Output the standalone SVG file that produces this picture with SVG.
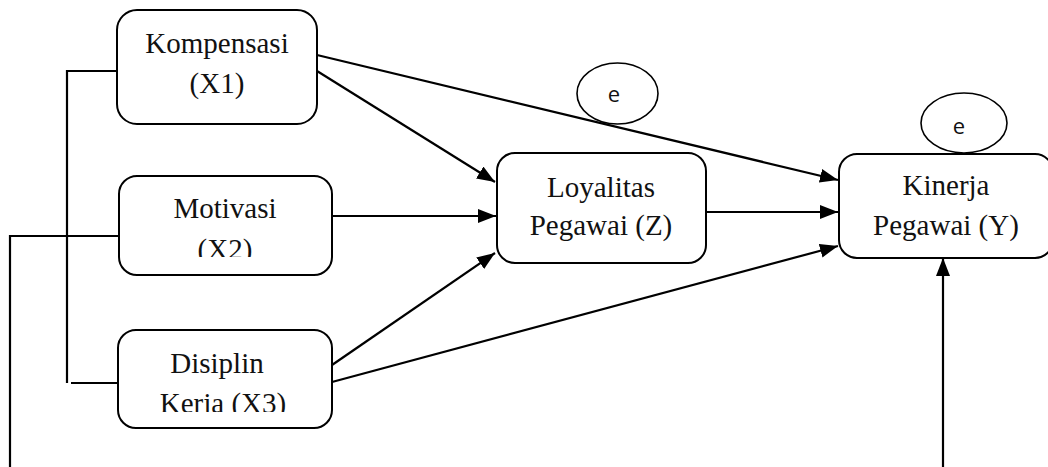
<svg xmlns="http://www.w3.org/2000/svg" width="1048" height="467" viewBox="0 0 1048 467">
<style>
.box{fill:#fff;stroke:#000;stroke-width:2}
.lbl{font-family:"Liberation Serif","Times New Roman",serif;font-size:29px;fill:#111;text-anchor:middle}
.e{font-family:"Open Sans","Noto Sans",sans-serif;font-size:22px;fill:#111;text-anchor:middle}
.ln{fill:none;stroke:#000;stroke-width:2.2}
.arr{fill:none;stroke:#000;stroke-width:2.2;marker-end:url(#ah)}
.ell{fill:none;stroke:#000;stroke-width:1.6}
</style>
<defs>
<marker id="ah" markerUnits="userSpaceOnUse" markerWidth="20" markerHeight="16" refX="18" refY="7" orient="auto">
<path d="M0,0 L18,7 L0,14 Z" fill="#000"/>
</marker>
<clipPath id="c2"><rect x="119" y="176" width="213" height="81"/></clipPath>
<clipPath id="c3"><rect x="118" y="330" width="214" height="82"/></clipPath>
</defs>
<rect width="1048" height="467" fill="#fff"/>
<g id="connectors">
<polyline class="ln" points="117,71 67,71 67,383"/>
<line class="ln" x1="71" y1="383" x2="120" y2="383"/>
<polyline class="ln" points="118,236 10,236 10,467"/>
<line class="arr" x1="317" y1="55" x2="838" y2="180"/>
<line class="arr" x1="317" y1="71" x2="495" y2="182"/>
<line class="arr" x1="332" y1="216" x2="496" y2="216"/>
<line class="arr" x1="332" y1="365" x2="495" y2="253"/>
<line class="arr" x1="332" y1="382" x2="838" y2="246"/>
<line class="arr" x1="706" y1="212" x2="838" y2="212"/>
<line class="arr" x1="943" y1="467" x2="943" y2="258"/>
</g>
<g id="kompensasi">
<rect class="box" x="117" y="10" width="200" height="114" rx="20"/>
<text class="lbl" x="217" y="53">Kompensasi</text>
<text class="lbl" x="217" y="93">(X1)</text>
</g>
<g id="motivasi">
<rect class="box" x="119" y="176" width="213" height="99" rx="18"/>
<g clip-path="url(#c2)">
<text class="lbl" x="225" y="218">Motivasi</text>
<text class="lbl" x="225" y="259">(X2)</text>
</g>
</g>
<g id="disiplin">
<rect class="box" x="118" y="330" width="214" height="98" rx="18"/>
<g clip-path="url(#c3)">
<text class="lbl" x="217" y="373">Disiplin</text>
<text class="lbl" x="223" y="413">Kerja (X3)</text>
</g>
</g>
<g id="loyalitas">
<rect class="box" x="497" y="153" width="209" height="110" rx="18"/>
<text class="lbl" x="601" y="197">Loyalitas</text>
<text class="lbl" x="601" y="235">Pegawai (Z)</text>
</g>
<g id="kinerja">
<rect class="box" x="839" y="154" width="214" height="104" rx="18"/>
<text class="lbl" x="946" y="195">Kinerja</text>
<text class="lbl" x="946" y="235">Pegawai (Y)</text>
</g>
<g id="e1">
<ellipse class="ell" cx="617.5" cy="93.5" rx="40.5" ry="30.5"/>
<text class="e" x="614" y="102">e</text>
</g>
<g id="e2">
<ellipse class="ell" cx="964" cy="123" rx="43" ry="30"/>
<text class="e" x="959" y="134">e</text>
</g>
</svg>
